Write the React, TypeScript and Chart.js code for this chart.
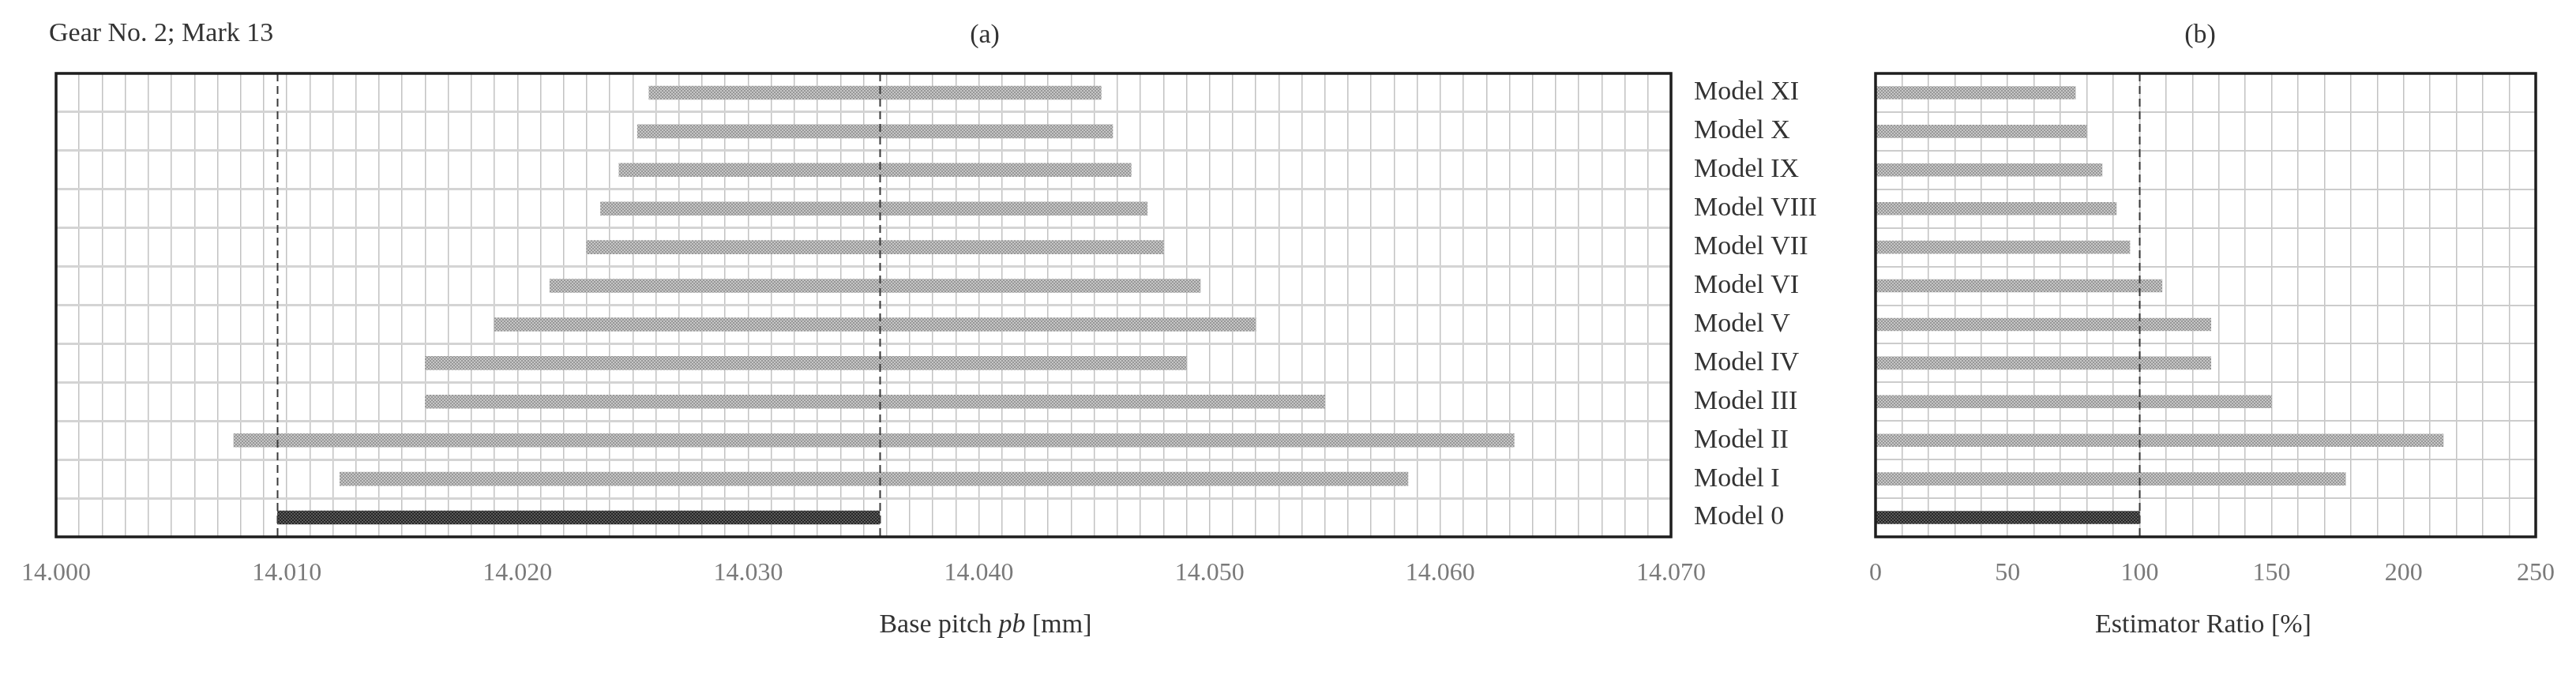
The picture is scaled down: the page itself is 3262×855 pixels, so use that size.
import React, { useEffect, useRef } from 'react';
import { Chart, registerables } from 'chart.js';

Chart.register(...registerables);

// ---- data (bottom to top) ----
const MODELS = ['Model 0', 'Model I', 'Model II', 'Model III', 'Model IV', 'Model V', 'Model VI', 'Model VII', 'Model VIII', 'Model IX', 'Model X', 'Model XI'];
const PB_LOW = [14.0096, 14.0123, 14.0077, 14.016, 14.016, 14.019, 14.0214, 14.023, 14.0236, 14.0244, 14.0252, 14.0257];
const PB_HIGH = [14.0357, 14.0586, 14.0632, 14.055, 14.049, 14.052, 14.0496, 14.048, 14.0473, 14.0466, 14.0458, 14.0453];
const RATIO = [100, 178, 215, 150, 127, 127, 108.5, 96.3, 91.2, 85.8, 80, 75.7];
const PB_REFERENCE = [14.0096, 14.0357];
const RATIO_REFERENCE = [100];
const PB_TICK_LABELS = ['14.000', '14.010', '14.020', '14.030', '14.040', '14.050', '14.060', '14.070'];
const RATIO_TICK_LABELS = ['0', '50', '100', '150', '200', '250'];

const FONT = "'Liberation Serif', 'Times New Roman', serif";

function makePattern(bg: string, fg: string) {
  const c = document.createElement('canvas');
  c.width = 4;
  c.height = 4;
  const ctx = c.getContext('2d')!;
  ctx.fillStyle = bg;
  ctx.fillRect(0, 0, 4, 4);
  ctx.fillStyle = fg;
  ctx.fillRect(0, 0, 2, 2);
  ctx.fillRect(2, 2, 2, 2);
  return ctx.createPattern(c, 'repeat');
}

function framePlugin(refs: number[]) {
  return {
    id: 'frameAndRefs',
    afterDatasetsDraw(chart: any) {
      const { ctx, chartArea: a } = chart;
      const x = chart.scales.x;
      ctx.save();
      ctx.strokeStyle = '#3a3a3a';
      ctx.lineWidth = 2;
      ctx.setLineDash([10, 6]);
      refs.forEach((v) => {
        const px = Math.round(x.getPixelForValue(v)) + 0.5;
        ctx.beginPath();
        ctx.moveTo(px, a.top);
        ctx.lineTo(px, a.bottom);
        ctx.stroke();
      });
      ctx.setLineDash([]);
      ctx.strokeStyle = '#1e1e1e';
      ctx.lineWidth = 3.5;
      ctx.strokeRect(a.left, a.top, a.right - a.left, a.bottom - a.top);
      ctx.restore();
    },
  };
}

export default function App() {
  const refA = useRef<HTMLCanvasElement>(null);
  const refB = useRef<HTMLCanvasElement>(null);

  useEffect(() => {
    const light = makePattern('#c6c6c6', '#979797');
    const dark = makePattern('#5a5a5a', '#262626');
    const colors = MODELS.map((_, i) => (i === 0 ? dark : light));
    const pbMin = parseFloat(PB_TICK_LABELS[0]);
    const pbMax = parseFloat(PB_TICK_LABELS[PB_TICK_LABELS.length - 1]);
    const rMin = parseFloat(RATIO_TICK_LABELS[0]);
    const rMax = parseFloat(RATIO_TICK_LABELS[RATIO_TICK_LABELS.length - 1]);

    const chartA = new Chart(refA.current!, {
      type: 'bar',
      data: {
        labels: MODELS,
        datasets: [
          {
            data: PB_LOW.map((lo, i) => [lo, PB_HIGH[i]]) as any,
            backgroundColor: colors as any,
            borderWidth: 0,
            borderSkipped: false,
            barThickness: 17,
          },
        ],
      },
      options: {
        responsive: false,
        animation: false,
        indexAxis: 'y',
        layout: { padding: { left: 65, top: 93, right: 0, bottom: 0 } },
        plugins: { legend: { display: false }, tooltip: { enabled: false }, title: { display: false } },
        scales: {
          x: {
            type: 'linear',
            min: pbMin,
            max: pbMax,
            border: { display: false },
            grid: { color: '#c2c2c2', lineWidth: 1.5, drawTicks: false },
            ticks: {
              stepSize: 0.001,
              autoSkip: false,
              maxRotation: 0,
              minRotation: 0,
              padding: 27,
              color: '#7a7a7a',
              font: { family: FONT, size: 32 },
              callback: (v: any) => {
                const s = Number(v).toFixed(3);
                return PB_TICK_LABELS.includes(s) ? s : '';
              },
            },
            afterFit: (s: any) => {
              s.height = 175;
            },
          },
          y: {
            type: 'category',
            position: 'right',
            reverse: true,
            border: { display: false },
            grid: { color: '#d4d4d4', lineWidth: 3, drawTicks: false, offset: true },
            ticks: { color: '#333333', font: { family: FONT, size: 34 }, padding: 29, autoSkip: false },
            afterFit: (s: any) => {
              s.width = 224;
            },
          },
        },
      } as any,
      plugins: [framePlugin(PB_REFERENCE)],
    });

    const chartB = new Chart(refB.current!, {
      type: 'bar',
      data: {
        labels: MODELS,
        datasets: [
          {
            data: RATIO,
            backgroundColor: colors as any,
            borderWidth: 0,
            borderSkipped: false,
            barThickness: 16,
          },
        ],
      },
      options: {
        responsive: false,
        animation: false,
        indexAxis: 'y',
        layout: { padding: { left: 15, top: 93, right: 39, bottom: 0 } },
        plugins: { legend: { display: false }, tooltip: { enabled: false }, title: { display: false } },
        scales: {
          x: {
            type: 'linear',
            min: rMin,
            max: rMax,
            border: { display: false },
            grid: { color: '#c2c2c2', lineWidth: 1.5, drawTicks: false },
            ticks: {
              stepSize: 10,
              autoSkip: false,
              maxRotation: 0,
              minRotation: 0,
              padding: 27,
              color: '#7a7a7a',
              font: { family: FONT, size: 32 },
              callback: (v: any) => {
                const s = String(Math.round(Number(v)));
                return RATIO_TICK_LABELS.includes(s) ? s : '';
              },
            },
            afterFit: (s: any) => {
              s.height = 175;
            },
          },
          y: {
            type: 'category',
            reverse: true,
            border: { display: false },
            grid: { color: '#cccccc', lineWidth: 2, drawTicks: false, offset: true },
            ticks: { display: false },
            afterFit: (s: any) => {
              s.width = 0;
            },
          },
        },
      } as any,
      plugins: [framePlugin(RATIO_REFERENCE)],
    });

    return () => {
      chartA.destroy();
      chartB.destroy();
    };
  }, []);

  const text: React.CSSProperties = {
    position: 'absolute',
    fontFamily: FONT,
    fontSize: 34,
    lineHeight: '34px',
    color: '#333333',
    whiteSpace: 'nowrap',
  };

  return (
    <div style={{ position: 'absolute', left: 0, top: 0, width: 3262, height: 855, background: '#ffffff', overflow: 'hidden' }}>
      <canvas ref={refA} width={2340} height={855} style={{ position: 'absolute', left: 0, top: 0, width: 2340, height: 855 }} />
      <canvas ref={refB} width={922} height={855} style={{ position: 'absolute', left: 2340, top: 0, width: 922, height: 855 }} />
      <div style={{ ...text, left: 62, top: 24 }}>Gear No. 2; Mark 13</div>
      <div style={{ ...text, left: 1247, top: 26, transform: 'translateX(-50%)' }}>(a)</div>
      <div style={{ ...text, left: 2786, top: 26, transform: 'translateX(-50%)' }}>(b)</div>
      <div style={{ ...text, left: 1248, top: 773, transform: 'translateX(-50%)' }}>
        Base pitch <i>pb</i> [mm]
      </div>
      <div style={{ ...text, left: 2790, top: 773, transform: 'translateX(-50%)' }}>Estimator Ratio [%]</div>
    </div>
  );
}
